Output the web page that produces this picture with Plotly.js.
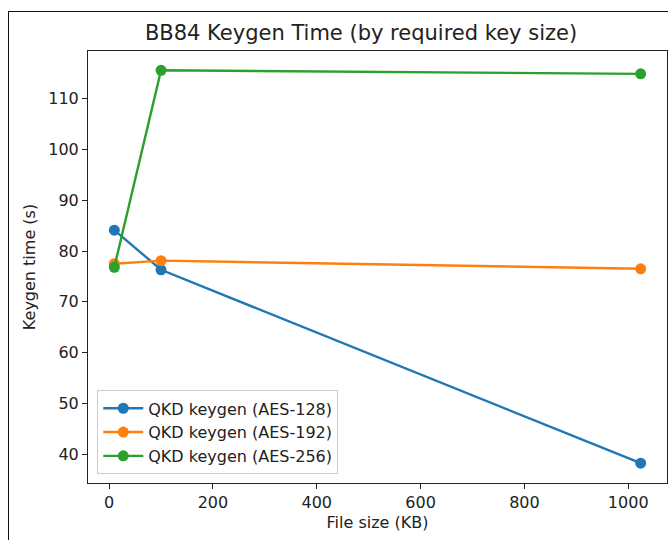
<!DOCTYPE html>
<html>
<head>
<meta charset="utf-8">
<script src="https://cdn.plot.ly/plotly-3.0.1.min.js"></script>
<style>
  html, body { margin: 0; padding: 0; background: #fff; }
  #wrap { position: relative; width: 668px; height: 540px; }
  #chart { width: 668px; height: 540px; }
  #frame { position: absolute; left: 8px; top: 11px; width: 700px; height: 600px;
           border-left: 1px solid #111; border-top: 1px solid #111; pointer-events: none; }
</style>
</head>
<body>
<div id="wrap">
  <div id="chart"></div>
  <div id="frame"></div>
</div>
<script>
const fileSizes = [10, 100, 1024];
const aes128 = [84.1, 76.3, 38.2];
const aes192 = [77.5, 78.1, 76.5];
const aes256 = [76.8, 115.6, 114.9];
const seriesNames = ["QKD keygen (AES-128)", "QKD keygen (AES-192)", "QKD keygen (AES-256)"];
const colors = ["#1f77b4", "#ff7f0e", "#2ca02c"];
const xTicks = [0, 200, 400, 600, 800, 1000];
const yTicks = [40, 50, 60, 70, 80, 90, 100, 110];

const font = "DejaVu Sans, sans-serif";
const series = [aes128, aes192, aes256];
const traces = series.map((ys, i) => ({
  x: fileSizes, y: ys, name: seriesNames[i], type: "scatter", mode: "lines+markers",
  line: { color: colors[i], width: 2.4 },
  marker: { color: colors[i], size: 11 }
}));

const layout = {
  width: 668, height: 540,
  margin: { l: 88, r: 1, t: 51, b: 57 },
  paper_bgcolor: "#fff", plot_bgcolor: "#fff",
  font: { family: font, size: 16, color: "#222" },
  title: { text: "BB84 Keygen Time (by required key size)", font: { family: font, size: 21, color: "#222" },
           x: 361/668, xanchor: "center", xref: "container", y: 1 - 33/540, yanchor: "middle", yref: "container" },
  xaxis: {
    range: [-40.7, 1074.7], tickvals: xTicks, ticktext: xTicks.map(String),
    ticks: "outside", ticklen: 5, tickwidth: 1, tickcolor: "#222",
    showline: true, mirror: true, linecolor: "#222", linewidth: 1,
    showgrid: false, zeroline: false,
    tickfont: { family: font, size: 16, color: "#222" },
    title: { text: "File size (KB)", font: { family: font, size: 16, color: "#222" }, standoff: 5 }
  },
  yaxis: {
    range: [34.3, 119.4], tickvals: yTicks, ticktext: yTicks.map(String),
    ticks: "outside", ticklen: 5, tickwidth: 1, tickcolor: "#222",
    showline: true, mirror: true, linecolor: "#222", linewidth: 1,
    showgrid: false, zeroline: false,
    tickfont: { family: font, size: 16, color: "#222" },
    title: { text: "Keygen time (s)", font: { family: font, size: 16, color: "#222" }, standoff: 8 }
  },
  legend: {
    x: 0.016, y: 0.02, xanchor: "left", yanchor: "bottom",
    bgcolor: "rgba(255,255,255,0.8)", bordercolor: "#ccc", borderwidth: 1,
    font: { family: font, size: 16, color: "#222" }, tracegroupgap: 0, itemwidth: 40
  },
  showlegend: true
};

Plotly.newPlot("chart", traces, layout, { staticPlot: true, displayModeBar: false });
</script>
</body>
</html>
